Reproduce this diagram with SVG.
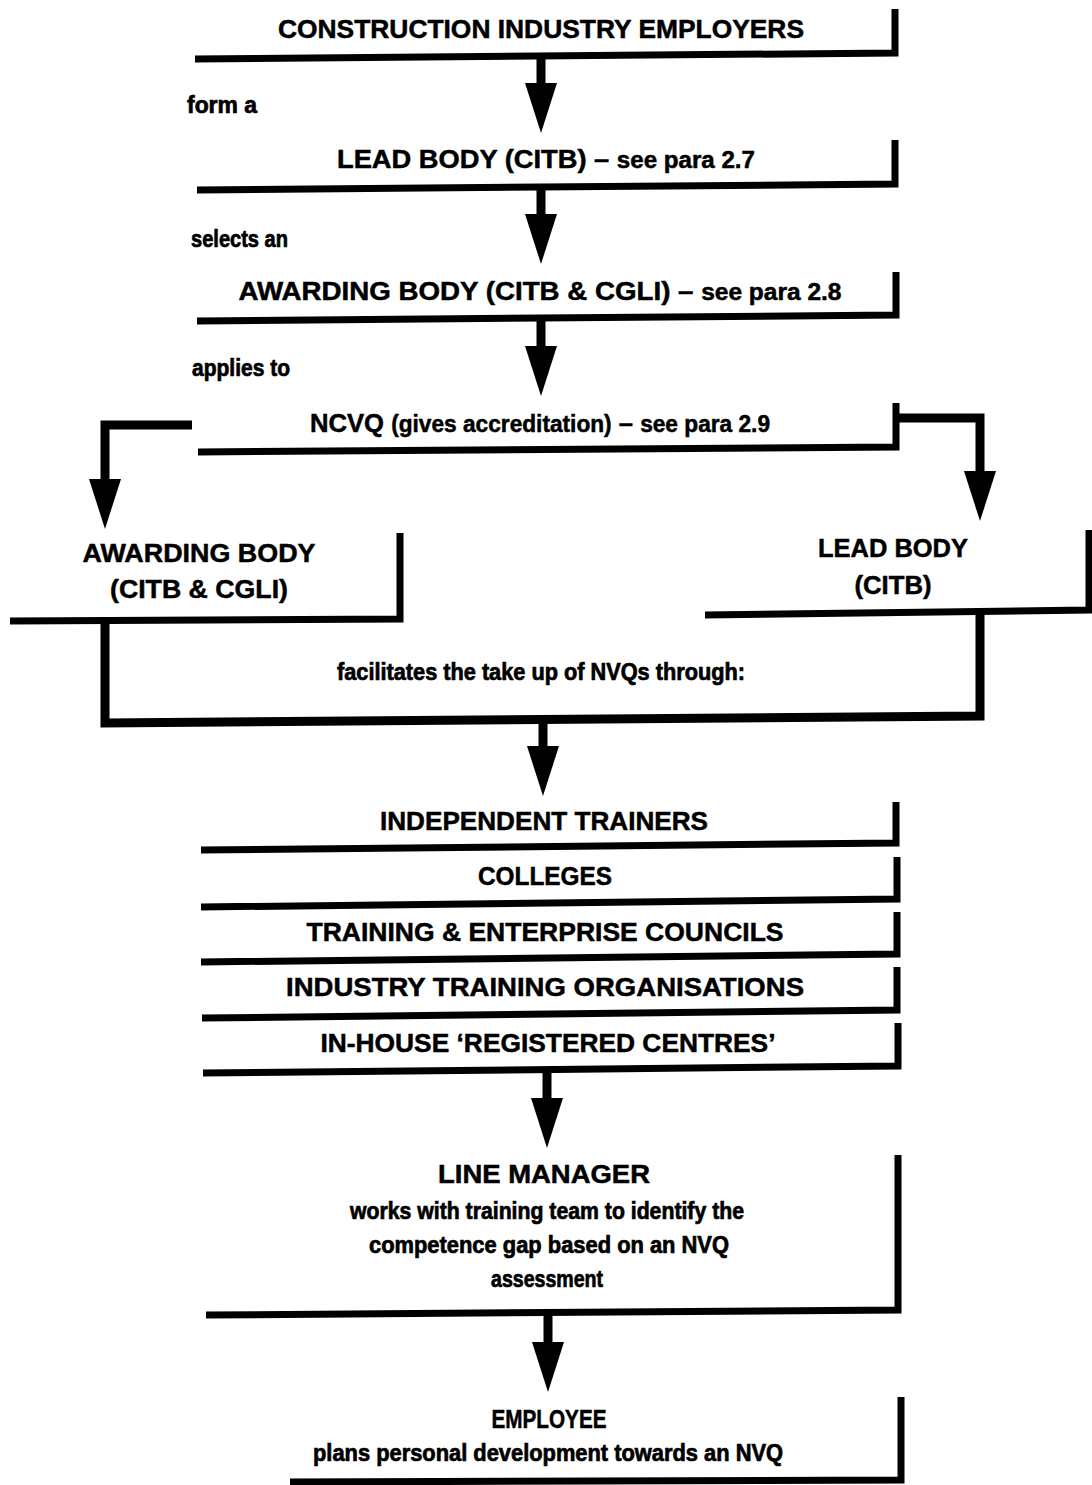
<svg xmlns="http://www.w3.org/2000/svg" width="1092" height="1485" viewBox="0 0 1092 1485">
<style>
.box{fill:none;stroke:#000;stroke-width:7;stroke-linejoin:miter;stroke-linecap:butt}
.ln{fill:none;stroke:#000;stroke-width:9;stroke-linejoin:miter;stroke-linecap:butt}
.h{font-family:"Liberation Sans",Arial,sans-serif;font-weight:bold;font-size:26px;fill:#000;stroke:#000;stroke-width:0.5;text-anchor:middle}
.s{font-family:"Liberation Sans",Arial,sans-serif;font-weight:bold;font-size:23px;fill:#000;stroke:#000;stroke-width:0.7}
.c{text-anchor:middle}
</style>
<defs>
<path id="ah" d="M-16,0 L16,0 L0,50 Z" fill="#000"/>
</defs>
<rect width="1092" height="1485" fill="#fff"/>

<g id="connectors">
  <line class="ln" x1="541" y1="56" x2="541" y2="86"/>
  <use href="#ah" x="541" y="83"/>
  <text class="s" x="187" y="113" textLength="70" lengthAdjust="spacingAndGlyphs">form a</text>

  <line class="ln" x1="541" y1="187" x2="541" y2="217"/>
  <use href="#ah" x="541" y="214"/>
  <text class="s" x="191" y="247" textLength="97" lengthAdjust="spacingAndGlyphs">selects an</text>

  <line class="ln" x1="541" y1="318" x2="541" y2="349"/>
  <use href="#ah" x="541" y="346"/>
  <text class="s" x="192" y="376" textLength="98" lengthAdjust="spacingAndGlyphs">applies to</text>

  <polyline class="ln" points="192,425 105,425 105,483"/>
  <use href="#ah" x="105" y="479"/>
  <polyline class="ln" points="896,418 980,418 980,475"/>
  <use href="#ah" x="980" y="471"/>

  <polyline class="ln" points="105,619 105,723 980,716 980,612"/>
  <text class="s c" x="541" y="680" textLength="408" lengthAdjust="spacingAndGlyphs">facilitates the take up of NVQs through:</text>
  <line class="ln" x1="543" y1="718" x2="543" y2="758"/>
  <use href="#ah" x="543" y="746"/>

  <line class="ln" x1="547" y1="1068" x2="547" y2="1103"/>
  <use href="#ah" x="547" y="1098"/>

  <line class="ln" x1="548" y1="1311" x2="548" y2="1346"/>
  <use href="#ah" x="548" y="1342"/>
</g>

<g id="n-employers">
  <polyline class="box" points="195,59 895,53 895,9"/>
  <text class="h" x="541" y="38" textLength="526" lengthAdjust="spacingAndGlyphs">CONSTRUCTION INDUSTRY EMPLOYERS</text>
</g>
<g id="n-leadbody">
  <polyline class="box" points="197,190 895,184 895,140"/>
  <text class="h" x="546" y="168" textLength="418" lengthAdjust="spacingAndGlyphs">LEAD BODY (CITB) – <tspan font-size="23">see para 2.7</tspan></text>
</g>
<g id="n-awardingbody">
  <polyline class="box" points="197,321 896,315 896,272"/>
  <text class="h" x="540" y="300" textLength="603" lengthAdjust="spacingAndGlyphs">AWARDING BODY (CITB &amp; CGLI) – <tspan font-size="23">see para 2.8</tspan></text>
</g>
<g id="n-ncvq">
  <polyline class="box" points="198,452 896,447 896,403"/>
  <text class="h" x="540" y="432" textLength="460" lengthAdjust="spacingAndGlyphs">NCVQ <tspan font-size="23">(gives accreditation)</tspan> – <tspan font-size="23">see para 2.9</tspan></text>
</g>
<g id="n-awarding-left">
  <polyline class="box" points="10,621 400,619 400,533"/>
  <text class="h" x="199" y="562" textLength="233" lengthAdjust="spacingAndGlyphs">AWARDING BODY</text>
  <text class="h" x="199" y="598" textLength="178" lengthAdjust="spacingAndGlyphs">(CITB &amp; CGLI)</text>
</g>
<g id="n-lead-right">
  <polyline class="box" points="705,615 1089,610 1089,530"/>
  <text class="h" x="893" y="557" textLength="150" lengthAdjust="spacingAndGlyphs">LEAD BODY</text>
  <text class="h" x="893" y="594" textLength="77" lengthAdjust="spacingAndGlyphs">(CITB)</text>
</g>
<g id="n-independent">
  <polyline class="box" points="201,850 896,843 896,802"/>
  <text class="h" x="544" y="830" textLength="328" lengthAdjust="spacingAndGlyphs">INDEPENDENT TRAINERS</text>
</g>
<g id="n-colleges">
  <polyline class="box" points="201,907 897,899 897,857"/>
  <text class="h" x="545" y="885" textLength="134" lengthAdjust="spacingAndGlyphs">COLLEGES</text>
</g>
<g id="n-tec">
  <polyline class="box" points="201,962 897,954 897,912"/>
  <text class="h" x="545" y="941" textLength="477" lengthAdjust="spacingAndGlyphs">TRAINING &amp; ENTERPRISE COUNCILS</text>
</g>
<g id="n-ito">
  <polyline class="box" points="202,1018 897,1010 897,967"/>
  <text class="h" x="545" y="996" textLength="518" lengthAdjust="spacingAndGlyphs">INDUSTRY TRAINING ORGANISATIONS</text>
</g>
<g id="n-inhouse">
  <polyline class="box" points="203,1073 898,1066 898,1023"/>
  <text class="h" x="548" y="1052" textLength="455" lengthAdjust="spacingAndGlyphs">IN-HOUSE ‘REGISTERED CENTRES’</text>
</g>
<g id="n-linemanager">
  <polyline class="box" points="206,1315 898,1310 898,1155"/>
  <text class="h" x="544" y="1183" textLength="212" lengthAdjust="spacingAndGlyphs">LINE MANAGER</text>
  <text class="s c" x="547" y="1219" textLength="394" lengthAdjust="spacingAndGlyphs">works with training team to identify the</text>
  <text class="s c" x="549" y="1253" textLength="360" lengthAdjust="spacingAndGlyphs">competence gap based on an NVQ</text>
  <text class="s c" x="547" y="1287" textLength="112" lengthAdjust="spacingAndGlyphs">assessment</text>
</g>
<g id="n-employee">
  <polyline class="box" points="290,1482 901,1480 901,1397"/>
  <text class="h" x="549" y="1428" font-size="24" textLength="115" lengthAdjust="spacingAndGlyphs">EMPLOYEE</text>
  <text class="s c" x="548" y="1461" textLength="470" lengthAdjust="spacingAndGlyphs">plans personal development towards an NVQ</text>
</g>
</svg>
